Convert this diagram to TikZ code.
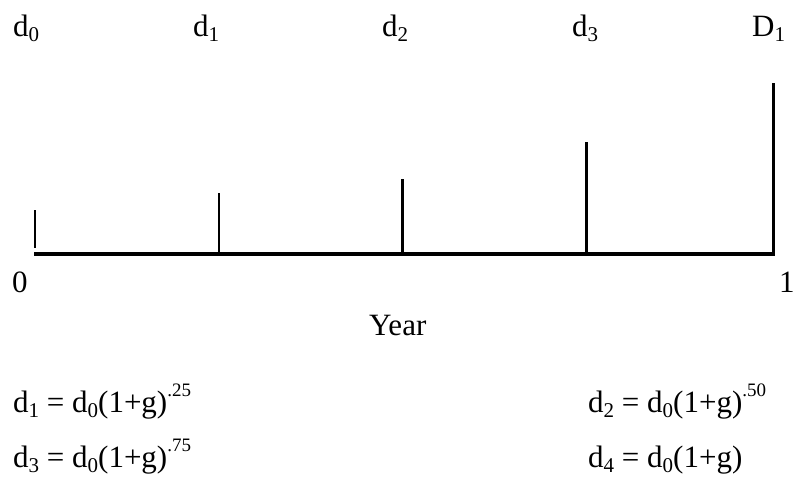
\documentclass[tikz,border=0pt]{standalone}
\usepackage{fontspec}
\setmainfont{Liberation Serif}
\newcommand\lo[1]{\raisebox{-0.18em}{\fontsize{21}{21}\selectfont #1}}
\newcommand\hi[1]{\raisebox{0.5em}{\fontsize{19}{19}\selectfont #1}}
\begin{document}
\begin{tikzpicture}[x=1pt,y=-1pt,
  lbl/.style={anchor=base west,inner sep=0pt,font=\fontsize{31}{36}\selectfont},
  thin tick/.style={line width=2pt},
  thick tick/.style={line width=3pt},
  axisline/.style={line width=3.5pt}]
\useasboundingbox (0,0) rectangle (794,485);
% top labels
\node[lbl] (l0) at (13,36) {d\lo{0}};
\node[lbl] (l1) at (193,36) {d\lo{1}};
\node[lbl] (l2) at (382,36) {d\lo{2}};
\node[lbl] (l3) at (572,36) {d\lo{3}};
\node[lbl] (l4) at (752,36) {D\lo{1}};
% axis
\coordinate (a0) at (34,254);
\coordinate (a1) at (775,254);
\draw[axisline] (a0) -- (a1);
% ticks
\coordinate (t0a) at (35,210); \coordinate (t0b) at (35,248);
\coordinate (t1a) at (219,193); \coordinate (t1b) at (219,252);
\coordinate (t2a) at (402,179); \coordinate (t2b) at (402,254);
\coordinate (t3a) at (586,142); \coordinate (t3b) at (586,253);
\coordinate (t4a) at (773,83); \coordinate (t4b) at (773,254);
\draw[thin tick] (t0a) -- (t0b);
\draw[thin tick] (t1a) -- (t1b);
\draw[thick tick] (t2a) -- (t2b);
\draw[thick tick] (t3a) -- (t3b);
\draw[thick tick] (t4a) -- (t4b);
% axis labels
\node[lbl] (zero) at (12,292) {0};
\node[lbl] (one) at (779,292) {1};
\node[lbl] (year) at (369,335) {Year};
% formulas
\node[lbl] (e1) at (13,412) {d\lo{1} = d\lo{0}(1+g)\hi{.25}};
\node[lbl] (e2) at (588,412) {d\lo{2} = d\lo{0}(1+g)\hi{.50}};
\node[lbl] (e3) at (13,467) {d\lo{3} = d\lo{0}(1+g)\hi{.75}};
\node[lbl] (e4) at (588,467) {d\lo{4} = d\lo{0}(1+g)};
\end{tikzpicture}
\end{document}
